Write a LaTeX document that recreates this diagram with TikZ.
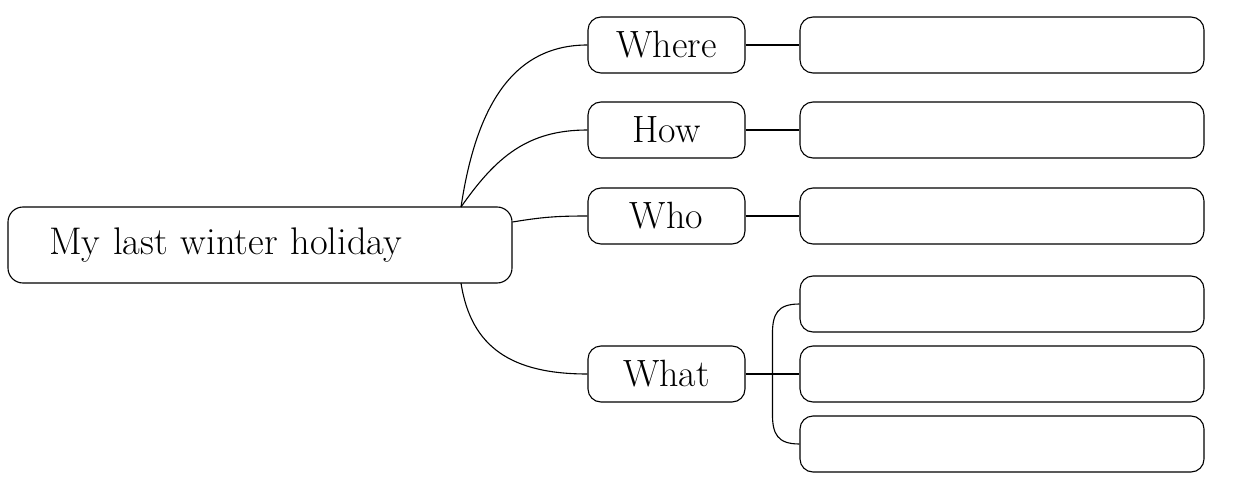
\documentclass[tikz,border=0pt]{standalone}
\usepackage{tikz}

\begin{document}
\begin{tikzpicture}[x=1pt,y=-1pt,line width=1.1pt,
  topic/.style={draw,rounded corners=15pt,minimum width=504pt,minimum height=76pt,inner xsep=41pt,text width=422pt,align=left,font=\fontsize{38.5}{40}\selectfont},
  key/.style={draw,rounded corners=13pt,minimum width=157pt,minimum height=56pt,inner sep=0pt,font=\fontsize{38}{40}\selectfont},
  blank/.style={draw,rounded corners=13pt,minimum width=404pt,minimum height=56pt,inner sep=0pt}]

\useasboundingbox (0,0) rectangle (1247,484);

%main topic
\node[topic] at (260, 245) (holiday) {\raisebox{-6pt}{My last winter holiday}};
\coordinate (top) at (461, 207);
\coordinate (bot) at (461, 283);

%questions
\node[key] at (666.5, 45) (where) {Where};
\node[key] at (666.5, 130) (how) {How};
\node[key] at (666.5, 216) (who) {Who};
\node[key] at (666.5, 374) (what) {What};

%answer boxes
\node[blank] at (1002, 45) (a1) {};
\node[blank] at (1002, 130) (a2) {};
\node[blank] at (1002, 216) (a3) {};
\node[blank] at (1002, 304) (a4) {};
\node[blank] at (1002, 374) (a5) {};
\node[blank] at (1002, 444) (a6) {};

%branches
\draw (top) .. controls +(15,-100) and +(-75,0) .. (where.west);
\draw (top) .. controls +(35,-50) and +(-60,0) .. (how.west);
\draw (holiday.east) ++(0,-23) .. controls +(30,-5) and +(-30,0) .. (who.west);
\draw (bot) .. controls +(10,65) and +(-75,0) .. (what.west);

\draw (where.east) -- (a1.west);
\draw (how.east) -- (a2.west);
\draw (who.east) -- (a3.west);
\draw (what.east) -- (a5.west);
\draw (a4.west) .. controls +(-22,0) and +(0,-20) .. ++(-27,30) -- ++(0,80) .. controls +(0,20) and +(-22,0) .. (a6.west);

\end{tikzpicture}
\end{document}
